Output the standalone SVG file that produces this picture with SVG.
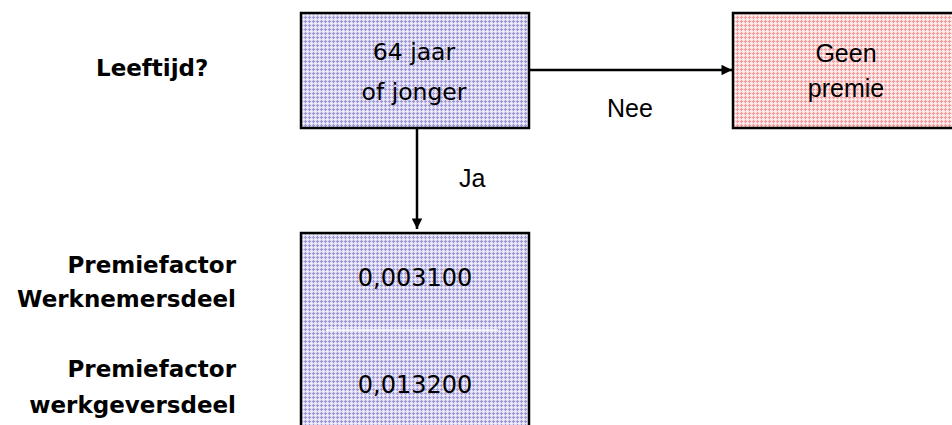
<svg xmlns="http://www.w3.org/2000/svg" width="952" height="425" viewBox="0 0 952 425">
  <style>
    .box { stroke: #000; stroke-width: 2.5; }
    .lbl { font-family: "DejaVu Sans", Verdana, sans-serif; font-weight: bold; font-size: 23px; fill: #000; }
    .txt { font-family: "DejaVu Sans", Verdana, sans-serif; font-size: 23.5px; fill: #000; text-anchor: middle; }
    .atxt { font-family: "Liberation Sans", Arial, sans-serif; font-size: 25px; fill: #000; }
    .edge { stroke: #000; stroke-width: 2.5; fill: none; }
  </style>
  <defs>
    <pattern id="lav" width="4" height="4" patternUnits="userSpaceOnUse">
      <rect width="4" height="4" fill="#e0def4"/>
      <rect x="1" y="0" width="1" height="3" fill="#9e97d3"/>
      <rect x="0" y="1" width="3" height="1" fill="#9e97d3"/>
      <rect x="3" y="3" width="1" height="1" fill="#ffffff"/>
    </pattern>
    <pattern id="pink" width="4" height="4" patternUnits="userSpaceOnUse">
      <rect width="4" height="4" fill="#fde0e0"/>
      <rect x="1" y="0" width="1" height="3" fill="#f59a9a"/>
      <rect x="0" y="1" width="3" height="1" fill="#f59a9a"/>
      <rect x="3" y="3" width="1" height="1" fill="#ffffff"/>
    </pattern>
    <marker id="arr" viewBox="0 0 10 10" refX="10" refY="5" markerWidth="6" markerHeight="4.2" markerUnits="strokeWidth" orient="auto">
      <path d="M0,0 L10,5 L0,10 z" fill="#000"/>
    </marker>
  </defs>

  <g id="labels">
    <text class="lbl" x="96" y="76">Leeftijd?</text>
    <text class="lbl" x="236" y="273" text-anchor="end">Premiefactor</text>
    <text class="lbl" x="236" y="307" text-anchor="end">Werknemersdeel</text>
    <text class="lbl" x="236" y="377" text-anchor="end">Premiefactor</text>
    <text class="lbl" x="236" y="413" text-anchor="end">werkgeversdeel</text>
  </g>

  <g id="connectors">
    <line class="edge" x1="529" y1="70" x2="732" y2="70" marker-end="url(#arr)"/>
    <line class="edge" x1="417" y1="128" x2="417" y2="229" marker-end="url(#arr)"/>
    <text class="atxt" x="607" y="117">Nee</text>
    <text class="atxt" x="459" y="187">Ja</text>
  </g>

  <g id="node-leeftijd">
    <rect class="box" x="301" y="13" width="228" height="115" fill="url(#lav)"/>
    <text class="txt" x="414" y="60">64 jaar</text>
    <text class="txt" x="414" y="100">of jonger</text>
  </g>

  <g id="node-geen-premie">
    <rect class="box" x="733" y="13" width="240" height="115" fill="url(#pink)"/>
    <text class="atxt" x="846" y="62" text-anchor="middle">Geen</text>
    <text class="atxt" x="846" y="97" text-anchor="middle">premie</text>
  </g>

  <g id="node-premiefactor">
    <rect class="box" x="301" y="233" width="228" height="210" fill="url(#lav)"/>
    <line x1="326" y1="330" x2="498" y2="330" stroke="#ffffff" stroke-width="1.5"/>
    <text class="txt" x="415" y="286" style="font-size:24px">0,003100</text>
    <text class="txt" x="415" y="393" style="font-size:24px">0,013200</text>
  </g>
</svg>
